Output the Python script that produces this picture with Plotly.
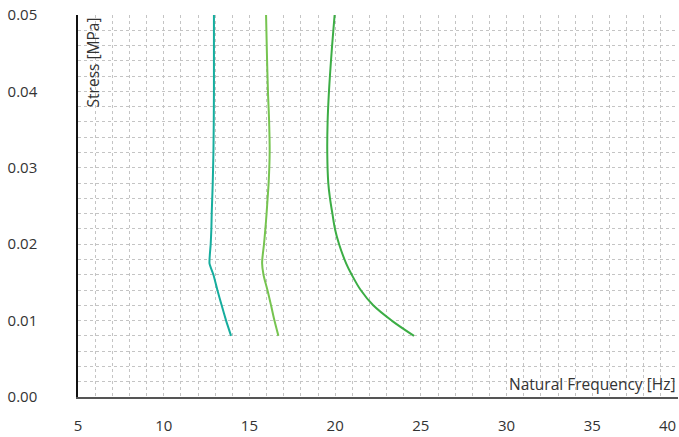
import plotly.graph_objects as go

stress = [0.008, 0.010, 0.012, 0.014, 0.016, 0.0175, 0.020, 0.022, 0.024, 0.026, 0.028, 0.032, 0.036, 0.040, 0.045, 0.050]
freq_a = [13.93, 13.64, 13.38, 13.13, 12.90, 12.67, 12.74, 12.78, 12.80, 12.83, 12.86, 12.90, 12.92, 12.93, 12.93, 12.93]
freq_b = [16.69, 16.46, 16.26, 16.05, 15.82, 15.74, 15.85, 15.93, 16.00, 16.06, 16.12, 16.18, 16.15, 16.08, 16.02, 15.97]
freq_c = [24.60, 23.30, 22.22, 21.49, 20.97, 20.64, 20.23, 19.99, 19.84, 19.70, 19.60, 19.54, 19.56, 19.64, 19.79, 19.97]

x_ticks = [5, 10, 15, 20, 25, 30, 35, 40]
y_ticks = [0.00, 0.01, 0.02, 0.03, 0.04, 0.05]

FONT = "Open Sans"
TXT = "#333333"
fig = go.Figure()
for f, col, sm in [(freq_a, "#16ad9e", 0.5), (freq_b, "#76c450", 0.9), (freq_c, "#3cad45", 1.0)]:
    fig.add_trace(go.Scatter(x=f, y=stress, mode="lines",
                             line=dict(color=col, width=2, shape="spline", smoothing=sm),
                             showlegend=False, hoverinfo="skip"))

grid = dict(showgrid=True, gridcolor="#c4c4c4", gridwidth=1, griddash="3px,3px")
fig.update_xaxes(range=[5, 40], tickvals=x_ticks[:-1], ticktext=[str(v) for v in x_ticks[:-1]],
                 showline=True, linecolor="#555555", linewidth=2, zeroline=False,
                 ticks="", ticklabelstandoff=14, automargin=False,
                 tickfont=dict(family=FONT, size=15, color=TXT),
                 minor=dict(dtick=1, showgrid=True, gridcolor="#c4c4c4", gridwidth=1, griddash="3px,3px"),
                 **grid)
fig.update_yaxes(range=[0, 0.05], tickvals=y_ticks, ticktext=[f"{v:.2f}" for v in y_ticks],
                 showline=True, linecolor="#111111", linewidth=1.5, zeroline=False,
                 ticks="", ticklabelstandoff=36, automargin=False,
                 tickfont=dict(family=FONT, size=15, color=TXT),
                 minor=dict(dtick=0.002, showgrid=True, gridcolor="#c4c4c4", gridwidth=1, griddash="3px,3px"),
                 **grid)

# last x tick label, kept inside the canvas edge
fig.add_annotation(text=str(x_ticks[-1]), xref="x", yref="paper", x=x_ticks[-1], y=0,
                   xanchor="right", yanchor="top", yshift=-16, showarrow=False,
                   font=dict(family=FONT, size=15, color=TXT))

fig.add_annotation(text="Stress [MPa]", xref="paper", yref="paper", x=0.004, y=1.0,
                   xanchor="left", yanchor="top", textangle=-90, showarrow=False,
                   font=dict(family=FONT, size=15.5, color=TXT))
fig.add_annotation(text="Natural Frequency [Hz]", xref="paper", yref="paper", x=1.0, y=0.0,
                   xanchor="right", yanchor="bottom", showarrow=False,
                   font=dict(family=FONT, size=15.5, color=TXT))

fig.update_layout(width=679, height=437, margin=dict(l=78, r=1, t=15, b=40, autoexpand=False),
                  plot_bgcolor="white", paper_bgcolor="white",
                  font=dict(family=FONT, color=TXT))
fig.write_html("out.html", config={"displayModeBar": False},
               post_script="document.body.style.margin='0';")
